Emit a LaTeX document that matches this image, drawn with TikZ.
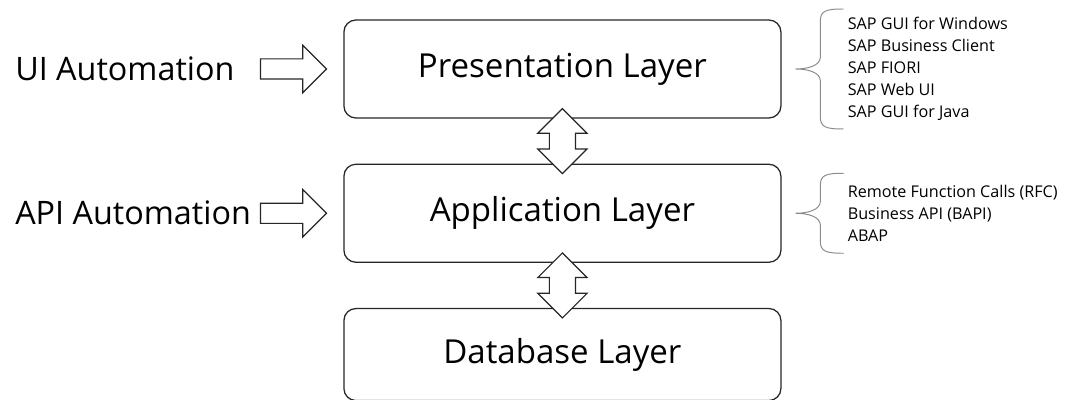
\documentclass[tikz,border=0pt]{standalone}
\usepackage{fontspec}
\setmainfont{Open Sans}
\usetikzlibrary{positioning, shapes.arrows, calc}

\tikzset{
  layer/.style={draw=black!85, line width=0.9pt, rounded corners=0.3cm, minimum width=10.925cm, minimum height=2.45cm, font=\fontsize{23.5}{28}\selectfont},
  autolabel/.style={font=\fontsize{23}{27}\selectfont, anchor=west, inner sep=0pt},
  inarrow/.style={draw=black!85, line width=0.8pt, single arrow, single arrow head extend=0.34cm, single arrow tip angle=90, minimum height=1.65cm, inner xsep=0pt, inner ysep=0.2375cm},
  updown/.style={draw=black!85, fill=white, line width=0.8pt, double arrow, double arrow head extend=0.29cm, double arrow tip angle=90, minimum height=1.625cm, inner xsep=0pt, inner ysep=0.3125cm, rotate=90},
  sublist/.style={font=\fontsize{11.5}{15.6}\selectfont, align=left, inner sep=0pt},
  brace/.style={draw=black!45, line width=0.7pt},
}

\begin{document}
\begin{tikzpicture}
  \useasboundingbox (0,0) rectangle (26.625,-10);

  % the three layers
  \node[layer] (pres) at (14.06,-1.725) {Presentation Layer};
  \node[layer, below=1.125cm of pres] (app) {Application Layer};
  \node[layer, below=1.125cm of app, minimum height=2.3cm] (db) {Database Layer};

  % automation entry points
  \node[inarrow, left=0.4cm of pres] (uiarr) {};
  \node[inarrow, left=0.4cm of app] (apiarr) {};
  \node[autolabel] (uilbl) at (0.375,0 |- uiarr) {UI Automation};
  \node[autolabel] (apilbl) at (0.375,0 |- apiarr) {API Automation};

  % links between layers
  \node[updown] (presapp) at ($(pres.south)!0.5!(app.north)$) {};
  \node[updown] (appdb) at ($(app.south)!0.5!(db.north)$) {};

  % technologies per layer
  \node[sublist, right=1.65cm of pres] (guilist) {SAP GUI for Windows\\SAP Business Client\\SAP FIORI\\SAP Web UI\\SAP GUI for Java};
  \node[sublist, right=1.65cm of app] (apilist) {Remote Function Calls (RFC)\\Business API (BAPI)\\ABAP};

  \coordinate (gtip) at ([xshift=0.35cm]pres.east);
  \coordinate (atip) at ([xshift=0.35cm]app.east);
  \foreach \t/\h in {gtip/1.5, atip/1.0}{
    \begin{scope}[shift={(\t)}]
      \draw[brace] (1.2,\h) .. controls (0.75,\h) and (0.62,\h-0.05) .. (0.62,\h-0.3)
        -- (0.62,0.3) .. controls (0.62,0.08) and (0.3,0) .. (0,0)
        .. controls (0.3,0) and (0.62,-0.08) .. (0.62,-0.3)
        -- (0.62,-\h+0.3) .. controls (0.62,-\h+0.05) and (0.75,-\h) .. (1.2,-\h);
    \end{scope}
  }
\end{tikzpicture}
\end{document}
